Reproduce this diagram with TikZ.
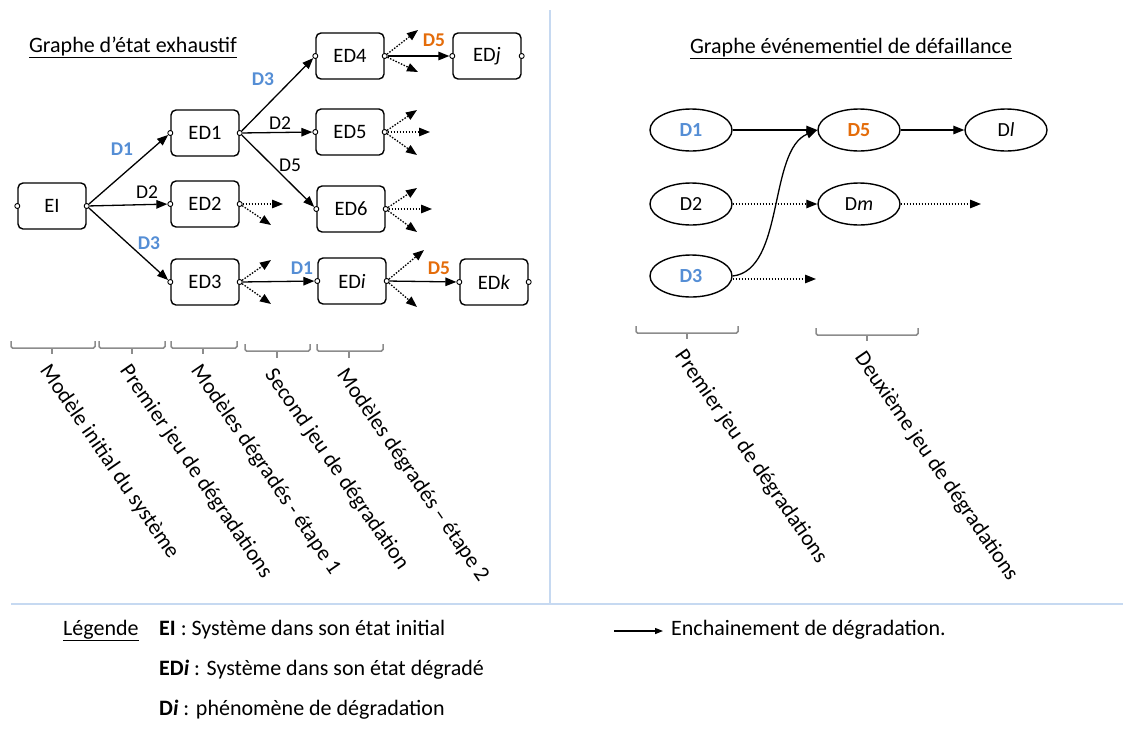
\documentclass[tikz,border=0pt]{standalone}
\usepackage{fontspec}
\setmainfont{Carlito}
\usetikzlibrary{arrows.meta,shapes.geometric}
\definecolor{dblue}{HTML}{558ED5}
\definecolor{dorange}{HTML}{E46C0A}
\definecolor{sepblue}{HTML}{C6D9F1}
\definecolor{brgray}{HTML}{8C8C8C}
\tikzset{
  state/.style={draw, line width=1.4pt, rounded corners=5pt, minimum width=68pt, minimum height=46pt, inner sep=0pt, font=\fontsize{20.5}{24}\selectfont},
  ev/.style={draw, ellipse, line width=1.4pt, minimum width=82pt, minimum height=42pt, inner sep=0pt, font=\fontsize{20}{24}\selectfont},
  port/.style={circle, draw, fill=white, line width=0.9pt, minimum size=5pt, inner sep=0pt},
  arr/.style={line width=1.3pt, -{Triangle[length=11pt,width=8.5pt]}},
  darr/.style={arr, dash pattern=on 1.5pt off 1.5pt},
  lab/.style={inner sep=0pt, font=\fontsize{19.5}{22}\selectfont},
  blab/.style={inner sep=0pt, font=\fontsize{19.5}{22}\selectfont\bfseries, text=dblue},
  olab/.style={inner sep=0pt, font=\fontsize{19.5}{22}\selectfont\bfseries, text=dorange},
  rot/.style={rotate=-55.5, anchor=north west, inner sep=0pt, font=\fontsize{22}{24}\selectfont},
  brk/.style={draw=brgray, line width=1.5pt, rounded corners=1.5pt},
  ttl/.style={anchor=base, inner sep=0pt, font=\fontsize{22}{24}\selectfont},
  leg/.style={anchor=base west, inner sep=0pt, font=\fontsize{22}{24}\selectfont},
}
\begin{document}
\begin{tikzpicture}[x=1pt,y=-1pt]
\useasboundingbox (0,0) rectangle (1123,729);
% separators
\draw[sepblue, line width=1.2pt] (550,10) -- (550,604);
\draw[sepblue, line width=2pt] (11,604) -- (1123,604);
% titles
\node[ttl] (t1) at (133,52) {\underline{Graphe d’état exhaustif}};
\node[ttl] (t2) at (851,53) {\underline{Graphe événementiel de défaillance}};
% left graph boxes
\node[state] (EI)  at (52,206)  {EI};
\node[state] (ED1) at (205,133) {ED1};
\node[state] (ED2) at (205,204) {ED2};
\node[state] (ED3) at (205,282) {ED3};
\node[state] (ED4) at (350,56)  {ED4};
\node[state] (ED5) at (350,132) {ED5};
\node[state] (ED6) at (351,209) {ED6};
\node[state] (EDi) at (352,281) {ED\textit{i}};
\node[state] (EDj) at (487,56)  {ED\textit{j}};
\node[state] (EDk) at (494,282) {ED\textit{k}};
% ports
\foreach \n in {EI,ED1,ED2,ED3,ED4,ED5,ED6,EDi,EDj,EDk}{
  \node[port] (\n-w) at (\n.west) {};
  \node[port] (\n-e) at (\n.east) {};
}
% solid arrows
\draw[arr] (EI-e) -- (ED1-w);
\draw[arr] (EI-e) -- (ED2-w);
\draw[arr] (EI-e) -- (ED3-w);
\draw[arr] (ED1-e) -- (ED4-w);
\draw[arr] (ED1-e) -- (ED5-w);
\draw[arr] (ED1-e) -- (ED6-w);
\draw[arr] (ED3-e) -- (EDi-w);
\draw[arr] (EDi-e) -- (EDk-w);
\draw[arr] (ED4-e) -- (EDj-w);
% edge labels
\node[blab] (l1) at (122,149) {D1};
\node[lab]  (l2) at (147,192) {D2};
\node[blab] (l3) at (149,243) {D3};
\node[blab] (l4) at (263,79)  {D3};
\node[lab]  (l5) at (280,123) {D2};
\node[lab]  (l6) at (290,165) {D5};
\node[olab] (l7) at (434,40)  {D5};
\node[blab] (l8) at (302,268) {D1};
\node[olab] (l9) at (439,268) {D5};
% dotted stubs
\coordinate (s2a) at (283,204); \coordinate (s2b) at (271,225);
\coordinate (s3a) at (271,260); \coordinate (s3b) at (271,304);
\coordinate (s4a) at (418,30);  \coordinate (s4b) at (418,72);
\coordinate (s5a) at (417,110); \coordinate (s5b) at (430,132); \coordinate (s5c) at (417,155);
\coordinate (s6a) at (417,188); \coordinate (s6b) at (432,209); \coordinate (s6c) at (417,232);
\coordinate (sia) at (424,250); \coordinate (sib) at (417,307);
\draw[darr] (ED2-e) -- (s2a); \draw[darr] (ED2-e) -- (s2b);
\draw[darr] (ED3-e) -- (s3a); \draw[darr] (ED3-e) -- (s3b);
\draw[darr] (ED4-e) -- (s4a); \draw[darr] (ED4-e) -- (s4b);
\draw[darr] (ED5-e) -- (s5a); \draw[darr] (ED5-e) -- (s5b); \draw[darr] (ED5-e) -- (s5c);
\draw[darr] (ED6-e) -- (s6a); \draw[darr] (ED6-e) -- (s6b); \draw[darr] (ED6-e) -- (s6c);
\draw[darr] (EDi-e) -- (sia); \draw[darr] (EDi-e) -- (sib);
% right graph
\node[ev, text=dblue, font=\fontsize{20}{24}\selectfont\bfseries] (D1) at (691,130) {D1};
\node[ev] (D2) at (691,204) {D2};
\node[ev, text=dblue, font=\fontsize{20}{24}\selectfont\bfseries] (D3) at (691,276) {D3};
\node[ev, text=dorange, font=\fontsize{20}{24}\selectfont\bfseries] (D5) at (859,130) {D5};
\node[ev] (Dm) at (859,204) {D\textit{m}};
\node[ev] (Dl) at (1006,130) {D\textit{l}};
\coordinate (rm) at (981,204);
\coordinate (r3) at (816,279);
\draw[arr] (D1) -- (D5);
\draw[arr] (D5) -- (Dl);
\draw[darr] (D2) -- (Dm);
\draw[darr] (Dm) -- (rm);
\draw[darr] (D3.east |- r3) -- (r3);
\draw[arr] (D3.east) .. controls (785,270) and (768,150) .. (D5.west);
% brackets left
\draw[brk] (11,341) -- (11,348) -- (95,348) -- (95,341);   \draw[brk] (52,348) -- (52,354);
\draw[brk] (99,341) -- (99,348) -- (165,348) -- (165,341); \draw[brk] (132,348) -- (132,354);
\draw[brk] (171,341) -- (171,348) -- (237,348) -- (237,341); \draw[brk] (203,348) -- (203,354);
\draw[brk] (245,344) -- (245,351) -- (310,351) -- (310,344); \draw[brk] (277,351) -- (277,358);
\draw[brk] (317,344) -- (317,351) -- (383,351) -- (383,344); \draw[brk] (349,351) -- (349,358);
% brackets right
\draw[brk] (636,326) -- (636,333) -- (738,333) -- (738,326); \draw[brk] (687,333) -- (687,339);
\draw[brk] (816,328) -- (816,335) -- (918,335) -- (918,328); \draw[brk] (867,335) -- (867,341);
% rotated texts
\node[rot] (r1) at (52,362) {Modèle initial du système};
\node[rot] (r2) at (132,362) {Premier jeu de dégradations};
\node[rot] (r3t) at (203,362) {Modèles dégradés - étape 1};
\node[rot] (r4) at (277,366) {Second jeu de dégradation};
\node[rot] (r5) at (349,366) {Modèles dégradés – étape 2};
\node[rot] (r6) at (687,347) {Premier jeu de dégradations};
\node[rot] (r7) at (867,349) {Deuxième jeu de dégradations};
% legend
\node[leg] (lg) at (63,635) {\underline{Légende}};
\node[leg] (lg1) at (159,635) {\textbf{EI} : Système dans son état initial};
\node[leg] (lg2) at (159,675) {\textbf{ED\textit{i}} : Système dans son état dégradé};
\node[leg] (lg3) at (159,715) {\textbf{D\textit{i}} : phénomène de dégradation};
\coordinate (la) at (614,631);
\coordinate (lb) at (663,631);
\draw[line width=1.3pt, -{Triangle[length=8pt,width=6pt]}] (la) -- (lb);
\node[leg] (lg4) at (671,635) {Enchainement de dégradation.};
\end{tikzpicture}
\end{document}
